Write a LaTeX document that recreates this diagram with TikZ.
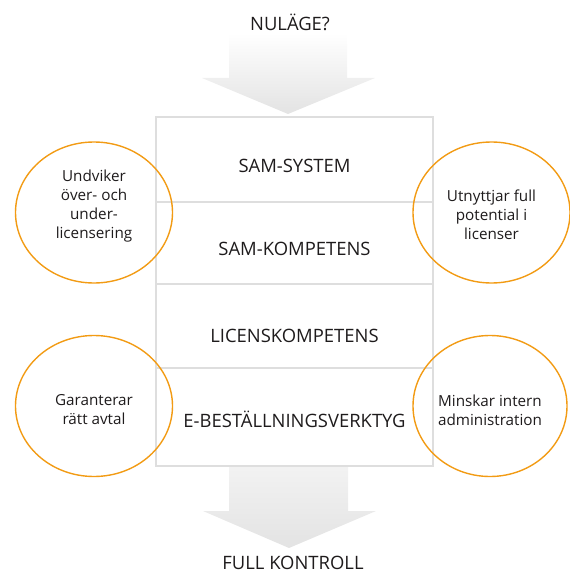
\documentclass[tikz,border=0pt]{standalone}
\usepackage{fontspec}
\setmainfont{Open Sans}
\usetikzlibrary{shapes.geometric}
\definecolor{ink}{HTML}{1E1B1C}
\definecolor{rulegray}{HTML}{DEDEDE}
\definecolor{ring}{HTML}{F29B14}
\tikzset{
  rowbox/.style={draw=rulegray, line width=1.6bp, minimum width=277bp, inner sep=0pt, outer sep=0pt},
  rowtext/.style={text=ink, font=\fontsize{18.5}{21}\selectfont, inner sep=0pt},
  bubble/.style={ellipse, draw=ring, line width=1.4bp, inner sep=0pt, minimum width=157bp, minimum height=141bp},
  bubbletext/.style={align=center, text=ink, font=\fontsize{15.3}{19}\selectfont, inner sep=0pt},
  caption/.style={text=ink, font=\fontsize{18.5}{21}\selectfont},
  flow/.style={top color=white, bottom color=gray!22, draw=none},
  flowlow/.style={top color=gray!10, bottom color=gray!22, draw=none}
}
\begin{document}
\begin{tikzpicture}[x=1bp,y=-1bp]
\useasboundingbox (0,0) rectangle (570,574);

% incoming arrow and its label
\node[caption] (start) at (290,22) {NULÄGE?};
\shade[flow] (229,33) -- (347,33) -- (347,78) -- (375,78) -- (288,114) -- (202,78) -- (229,78) -- cycle;

% stacked building blocks
\node[rowbox, minimum height=85bp, label={[rowtext, yshift=-6bp]center:SAM-SYSTEM}] (r1) at (294.5,159.5) {};
\node[rowbox, minimum height=82bp, label={[rowtext, yshift=-6bp]center:SAM-KOMPETENS}] (r2) at (294.5,243) {};
\node[rowbox, minimum height=84bp, label={[rowtext, yshift=-10bp]center:LICENSKOMPETENS}] (r3) at (294.5,326) {};
\node[rowbox, minimum height=98bp, label={[rowtext, yshift=-2bp]center:E-BESTÄLLNINGSVERKTYG}] (r4) at (294.5,417) {};

% outgoing arrow and its label
\shade[flowlow] (229,467) -- (348,467) -- (348,511) -- (376,511) -- (289,548) -- (203,511) -- (229,511) -- cycle;
\node[caption] (goal) at (293,563) {FULL KONTROLL};

% benefits around the stack
\node[bubble, label={[bubbletext, yshift=6.5bp]center:{Undviker\\över- och\\under-\\licensering}}] (b1) at (94,212.5) {};
\node[bubble, label={[bubbletext, yshift=-2bp]center:{Utnyttjar full\\potential i\\licenser}}] (b2) at (491.5,212.5) {};
\node[bubble, label={[bubbletext, yshift=-4bp]center:{Garanterar\\rätt avtal}}] (b3) at (94,406) {};
\node[bubble, minimum width=154bp, label={[bubbletext, yshift=-4.5bp]center:{Minskar intern\\administration}}] (b4) at (490,406) {};
\end{tikzpicture}
\end{document}
